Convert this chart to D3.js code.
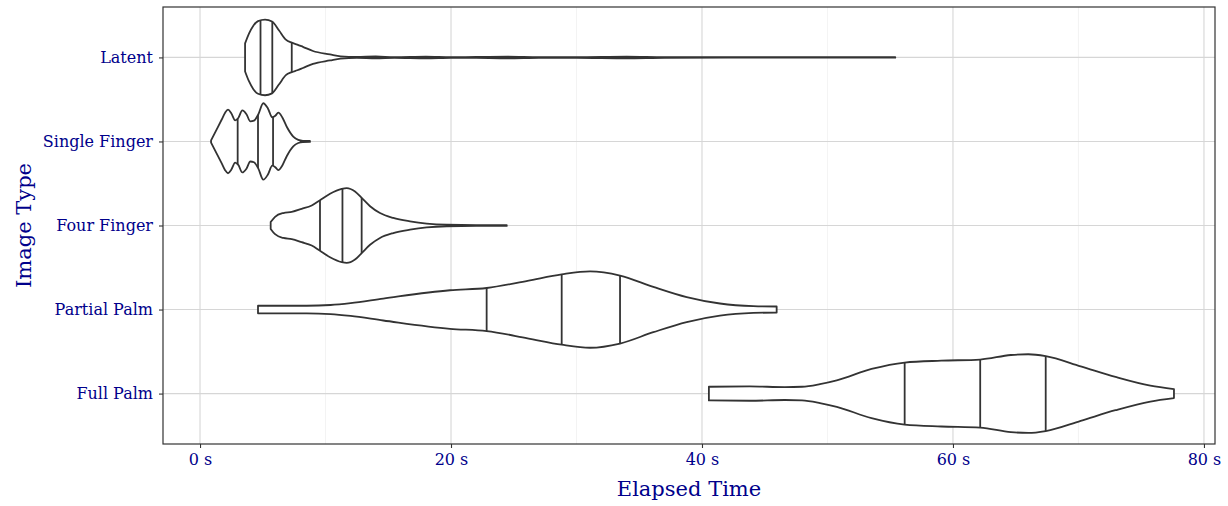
<!DOCTYPE html>
<html>
<head>
<meta charset="utf-8">
<script src="https://cdn.jsdelivr.net/npm/d3@7"></script>
<style>
  html, body { margin: 0; padding: 0; background: #ffffff; }
  svg { display: block; }
</style>
</head>
<body>
<svg id="chart" width="1228" height="506"></svg>
<script>
// ---------------- data ----------------
const categories = ["Latent", "Single Finger", "Four Finger", "Partial Palm", "Full Palm"];
const xTickValues = [0, 20, 40, 60, 80];
const xTickLabels = ["0 s", "20 s", "40 s", "60 s", "80 s"];
const xMinorValues = [10, 30, 50, 70];

// violin profiles: elapsed time (s) and relative density (1 = widest)
const latentTime    = [3.59, 3.9, 4.25, 4.62, 5.18, 5.74, 6.3, 6.84, 7.31, 7.75, 8.2, 9.0, 10.36, 11.2, 12.5, 14, 15.5, 18, 20, 22, 24.5, 27, 30, 34, 37, 42, 48, 55.4];
const latentDensity = [0.37, 0.63, 0.84, 0.96, 1.0, 0.95, 0.71, 0.47, 0.39, 0.34, 0.28, 0.17, 0.08, 0.03, 0.012, 0.024, 0.01, 0.022, 0.009, 0.012, 0.022, 0.009, 0.008, 0.022, 0.008, 0.006, 0.006, 0.006];
const latentQuantiles = [4.82, 5.76, 7.31];

const singleTime    = [0.88, 1.33, 1.73, 2.0, 2.23, 2.5, 2.8, 3.05, 3.37, 3.7, 4.01, 4.3, 4.65, 5.04, 5.4, 5.76, 6.0, 6.24, 6.55, 6.91, 7.43, 7.83, 8.2, 8.76];
const singleDensity = [0.03, 0.32, 0.58, 0.76, 0.84, 0.74, 0.56, 0.62, 0.82, 0.72, 0.53, 0.55, 0.72, 1.01, 0.88, 0.64, 0.68, 0.76, 0.64, 0.39, 0.13, 0.04, 0.015, 0.012];
const singleQuantiles = [3.0, 4.62, 5.82];

const fourTime    = [5.63, 5.98, 6.64, 7.31, 8.1, 8.9, 9.56, 10.36, 11.29, 11.69, 12.35, 12.88, 13.55, 14.34, 15.4, 16.73, 18.06, 19.66, 22, 24.44];
const fourDensity = [0.09, 0.23, 0.33, 0.36, 0.44, 0.53, 0.67, 0.84, 0.97, 0.99, 0.9, 0.73, 0.51, 0.33, 0.2, 0.11, 0.05, 0.02, 0.012, 0.012];
const fourQuantiles = [9.56, 11.35, 12.88];

const partialTime    = [4.62, 8.5, 10.4, 12.0, 14.6, 19.92, 22.84, 26.1, 28.82, 31.08, 33.47, 36.12, 38.78, 41.43, 44.09, 45.95];
const partialDensity = [0.1, 0.1, 0.12, 0.17, 0.29, 0.51, 0.57, 0.76, 0.93, 1.01, 0.9, 0.6, 0.33, 0.16, 0.09, 0.08];
const partialQuantiles = [22.84, 28.82, 33.47];

const fullTime    = [40.55, 43.8, 46.6, 47.97, 49.4, 50.74, 53.51, 56.15, 59.07, 62.17, 64.62, 66.0, 67.39, 70.18, 72.95, 75.73, 77.61];
const fullDensity = [0.18, 0.19, 0.17, 0.18, 0.25, 0.35, 0.65, 0.82, 0.87, 0.9, 1.02, 1.04, 0.99, 0.72, 0.44, 0.21, 0.12];
const fullQuantiles = [56.15, 62.17, 67.39];

// ---------------- build ----------------
const violins = [
  { cat: "Latent", t: latentTime, d: latentDensity, q: latentQuantiles },
  { cat: "Single Finger", t: singleTime, d: singleDensity, q: singleQuantiles },
  { cat: "Four Finger", t: fourTime, d: fourDensity, q: fourQuantiles },
  { cat: "Partial Palm", t: partialTime, d: partialDensity, q: partialQuantiles },
  { cat: "Full Palm", t: fullTime, d: fullDensity, q: fullQuantiles }
];

const svg = d3.select("#chart");
const panel = { left: 163, right: 1215, top: 7, bottom: 444 };
const labelColor = "#00008B";
const font = "'DejaVu Serif', serif";
const inkColor = "#333333";

const x = d3.scaleLinear().domain([-2.95, 80.88]).range([panel.left, panel.right]);
const y = d3.scalePoint().domain(categories).range([panel.top, panel.bottom]).padding(0.6);
const halfWidth = d3.scaleLinear().domain([0, 1]).range([0, 0.45 * y.step()]);

// grid
const g = svg.append("g");
g.selectAll("line.minor").data(xMinorValues).join("line")
  .attr("x1", d => x(d)).attr("x2", d => x(d))
  .attr("y1", panel.top).attr("y2", panel.bottom)
  .attr("stroke", "#ebebeb").attr("stroke-width", 0.6);
g.selectAll("line.majx").data(xTickValues).join("line")
  .attr("x1", d => x(d)).attr("x2", d => x(d))
  .attr("y1", panel.top).attr("y2", panel.bottom)
  .attr("stroke", "#d6d6d6").attr("stroke-width", 1.1);
g.selectAll("line.majy").data(categories).join("line")
  .attr("x1", panel.left).attr("x2", panel.right)
  .attr("y1", d => y(d)).attr("y2", d => y(d))
  .attr("stroke", "#d6d6d6").attr("stroke-width", 1.1);

// violins
const curve = d3.curveMonotoneX;
violins.forEach(v => {
  const pts = v.t.map((t, i) => ({ t, d: v.d[i] }));
  const cy = y(v.cat);
  const area = d3.area().curve(curve)
    .x(p => x(p.t))
    .y0(p => cy + halfWidth(p.d))
    .y1(p => cy - halfWidth(p.d));
  svg.append("path")
    .attr("d", area(pts))
    .attr("fill", "#ffffff")
    .attr("stroke", inkColor)
    .attr("stroke-width", 1.8)
    .attr("stroke-linejoin", "round");

  // hidden upper edge to measure width at quantiles
  const upper = d3.line().curve(curve).x(p => x(p.t)).y(p => cy - halfWidth(p.d));
  const hidden = svg.append("path").attr("d", upper(pts)).attr("fill", "none").attr("stroke", "none");
  const node = hidden.node();
  const L = node.getTotalLength();
  const samples = [];
  for (let s = 0; s <= L; s += 0.25) samples.push(node.getPointAtLength(s));
  v.q.forEach(qt => {
    const qx = x(qt);
    let best = samples[0];
    samples.forEach(p => { if (Math.abs(p.x - qx) < Math.abs(best.x - qx)) best = p; });
    const hw = cy - best.y;
    svg.append("line")
      .attr("x1", qx).attr("x2", qx)
      .attr("y1", cy - hw).attr("y2", cy + hw)
      .attr("stroke", inkColor).attr("stroke-width", 1.8);
  });
  hidden.remove();
});

// panel border
svg.append("rect")
  .attr("x", panel.left).attr("y", panel.top)
  .attr("width", panel.right - panel.left).attr("height", panel.bottom - panel.top)
  .attr("fill", "none").attr("stroke", inkColor).attr("stroke-width", 1.2);

// x axis
const xAxis = d3.axisBottom(x).tickValues(xTickValues)
  .tickFormat((d, i) => xTickLabels[i]).tickSize(4).tickPadding(6);
const xg = svg.append("g").attr("transform", `translate(0,${panel.bottom})`).call(xAxis);
xg.select(".domain").remove();
xg.selectAll(".tick line").attr("stroke", inkColor).attr("stroke-width", 1.1);
xg.selectAll(".tick text").attr("fill", labelColor).attr("font-family", font).attr("font-size", 16);

// y axis
const yAxis = d3.axisLeft(y).tickSize(4).tickPadding(6);
const yg = svg.append("g").attr("transform", `translate(${panel.left},0)`).call(yAxis);
yg.select(".domain").remove();
yg.selectAll(".tick line").attr("stroke", inkColor).attr("stroke-width", 1.1);
yg.selectAll(".tick text").attr("fill", labelColor).attr("font-family", font).attr("font-size", 16);

// titles
svg.append("text")
  .attr("x", (panel.left + panel.right) / 2).attr("y", 496)
  .attr("text-anchor", "middle")
  .attr("fill", labelColor).attr("font-family", font).attr("font-size", 21)
  .text("Elapsed Time");
svg.append("text")
  .attr("transform", `translate(31,${(panel.top + panel.bottom) / 2}) rotate(-90)`)
  .attr("text-anchor", "middle")
  .attr("fill", labelColor).attr("font-family", font).attr("font-size", 21)
  .text("Image Type");
</script>
</body>
</html>
